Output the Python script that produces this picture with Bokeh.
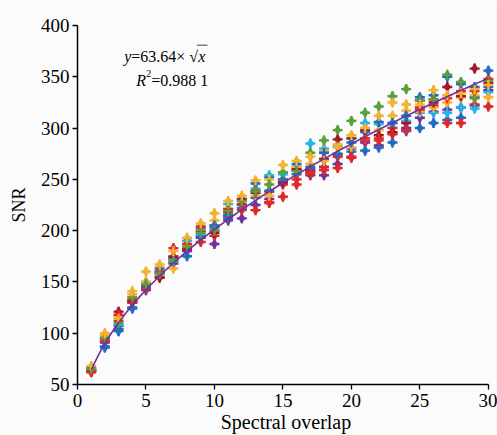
import numpy as np
from bokeh.plotting import figure
from bokeh.models import ColumnDataSource, Range1d, Label, BoxAnnotation, FixedTicker
from bokeh.embed import file_html
from bokeh.resources import INLINE

x_values = list(range(1, 31))

gold = [68, 100, 114, 141, 160, 167, 180, 193, 207, 217, 229, 234, 249, 234, 264, 268, 272, 268, 281, 293, 300, 312, 325, 323, 323, 337, 332, 334, 338, 342]
gold2 = [66, 98, 116, 138, 150, 164, 163, 186, 200, 210, 222, 226, 234, 250, 250, 262, 265, 278, 284, 281, 290, 298, 312, 317, 316, 320, 325, 330, 332, 330]
blue = [66, 86, 104, 124, 145, 163, 170, 175, 194, 205, 215, 225, 246, 239, 250, 265, 260, 276, 275, 286, 296, 306, 305, 312, 330, 332, 350, 343, 340, 356]
blue2 = [64, 87, 102, 125, 146, 160, 172, 190, 202, 203, 212, 222, 232, 252, 248, 255, 262, 262, 274, 277, 278, 281, 286, 297, 300, 305, 308, 310, 322, 340]
cyan = [65, 97, 108, 132, 150, 160, 172, 190, 196, 205, 226, 229, 241, 254, 255, 262, 285, 280, 282, 290, 305, 304, 305, 307, 315, 315, 315, 320, 319, 335]
green = [65, 95, 110, 135, 148, 158, 170, 184, 198, 200, 219, 229, 238, 245, 257, 258, 276, 288, 298, 307, 315, 321, 331, 338, 327, 328, 352, 345, 329, 346]
red = [63, 94, 118, 133, 147, 160, 183, 187, 204, 200, 221, 226, 239, 227, 233, 245, 257, 259, 261, 272, 290, 290, 294, 298, 318, 328, 329, 336, 336, 348]
red2 = [62, 92, 112, 130, 143, 155, 175, 182, 189, 195, 214, 220, 220, 228, 245, 250, 255, 262, 272, 271, 288, 288, 300, 298, 320, 322, 305, 305, 323, 321]
darkred = [63, 95, 121, 131, 146, 154, 174, 182, 199, 198, 218, 231, 237, 238, 247, 260, 258, 270, 289, 290, 298, 293, 296, 305, 327, 325, 340, 331, 358, 344]
purple = [64, 91, 107, 130, 142, 158, 168, 180, 193, 187, 210, 212, 225, 231, 250, 259, 254, 254, 265, 280, 286, 283, 295, 300, 310, 316, 318, 320, 330, 337]

series = [
    (purple, "#7030a0"),
    (blue2, "#1f6cc0"),
    (red2, "#e0282c"),
    (cyan, "#22b4ea"),
    (gold2, "#f4b233"),
    (darkred, "#a0182c"),
    (blue, "#1f6cc0"),
    (red, "#e0282c"),
    (green, "#5aa03c"),
    (gold, "#f4b233"),
]

fit_coef = 63.64
fit_r2 = "0.988 1"
x_title = "Spectral overlap"
y_title = "SNR"

xs, ys, cs = [], [], []
for vals, col in series:
    xs += x_values
    ys += vals
    cs += [col] * len(vals)
src = ColumnDataSource(dict(x=xs, y=ys, c=cs))

p = figure(width=497, height=435, output_backend="svg", toolbar_location=None,
           x_range=Range1d(0, 30.45), y_range=Range1d(50, 400),
           min_border_left=77, min_border_right=3, min_border_top=25, min_border_bottom=51)
p.background_fill_color = "#fbfbfb"
p.border_fill_color = "#fbfbfb"
p.outline_line_color = None
p.grid.grid_line_color = None

p.scatter("x", "y", source=src, marker="diamond", size=10, fill_color="c", line_color="c", line_width=0.5)
p.scatter("x", "y", source=src, marker="cross", size=10, line_color="c", line_width=2.4)

fx = np.linspace(1, 30, 200)
p.line(fx, fit_coef * np.sqrt(fx), line_color="#7030a0", line_width=1.6)

font = "Liberation Serif"
for ax in (p.xaxis[0], p.yaxis[0]):
    ax.axis_line_color = "black"
    ax.axis_line_width = 1.5
    ax.major_tick_line_color = "black"
    ax.major_tick_line_width = 1.3
    ax.major_tick_in = 0
    ax.major_tick_out = 5
    ax.minor_tick_line_color = None
    ax.major_label_text_font = font
    ax.major_label_text_font_size = "19px"
    ax.major_label_text_color = "black"
    ax.axis_label_text_font = font
    ax.axis_label_text_font_style = "normal"
    ax.axis_label_text_color = "black"

p.xaxis.axis_label_text_font_size = "20px"
p.yaxis.axis_label_text_font_size = "18px"
p.xaxis.bounds = (0, 30)
p.xaxis.ticker = FixedTicker(ticks=[0, 5, 10, 15, 20, 25, 30])
p.yaxis.ticker = FixedTicker(ticks=[50, 100, 150, 200, 250, 300, 350, 400])
p.xaxis.axis_label = x_title
p.yaxis.axis_label = y_title
p.xaxis.major_label_standoff = 4
p.xaxis.axis_label_standoff = 1
p.yaxis.major_label_standoff = 3
p.yaxis.axis_label_standoff = 9

# equation annotation
ex = 3.42
ey1 = 369.5
ey2 = 346.0
def lab(text, dx, y, style="normal", size="16px", dy=0):
    p.add_layout(Label(x=ex, y=y, x_offset=dx, y_offset=dy, text=text, text_font=font,
                       text_font_size=size, text_font_style=style, text_color="black",
                       text_baseline="alphabetic", text_align="left"))

lab("y", 0, ey1, "italic")
lab(f"={fit_coef}×", 7, ey1)
lab("√", 65, ey1)
lab("x", 74, ey1, "italic")
lab("R", 12, ey2, "italic")
lab("2", 22, ey2, size="10px", dy=7)
lab(f"={fit_r2}", 27, ey2)

p.add_layout(BoxAnnotation(left=ex + 72.5 / 13.68, right=ex + 83 / 13.68, top=ey1 + 11.8, bottom=ey1 + 10.9,
                           fill_color="black", fill_alpha=1, line_color=None))

open("out.html", "w").write(file_html(p, INLINE))
